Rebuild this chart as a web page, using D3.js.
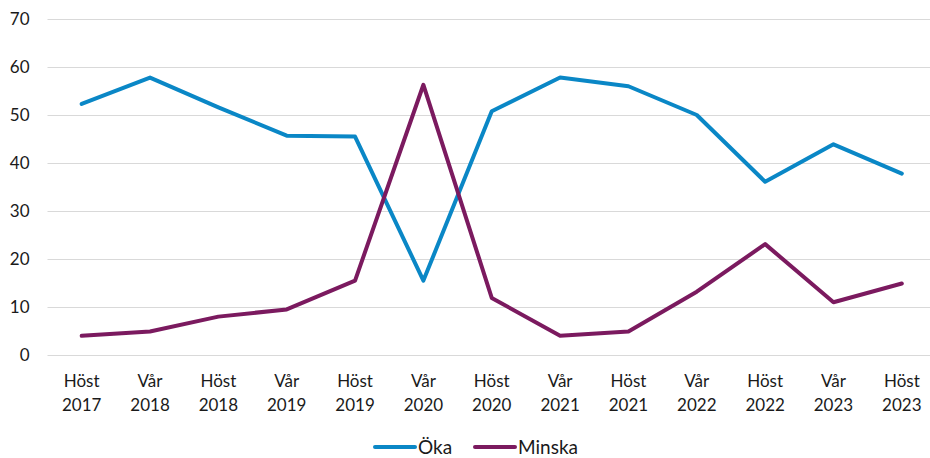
<!DOCTYPE html>
<html>
<head>
<meta charset="utf-8">
<script src="https://cdn.jsdelivr.net/npm/d3@7"></script>
<style>
  html, body { margin: 0; padding: 0; background: #fff; }
  svg { display: block; font-family: Lato, "Open Sans", sans-serif; }
</style>
</head>
<body>
<svg id="chart" width="930" height="458"></svg>
<script>
const seasons = ["Höst", "Vår", "Höst", "Vår", "Höst", "Vår", "Höst", "Vår", "Höst", "Vår", "Höst", "Vår", "Höst"]
const years = ["2017", "2018", "2018", "2019", "2019", "2020", "2020", "2021", "2021", "2022", "2022", "2023", "2023"]
const oka = [52.4, 57.9, 51.7, 45.8, 45.6, 15.6, 50.9, 57.9, 56.1, 50.1, 36.2, 44.0, 37.9]
const minska = [4.1, 5.0, 8.1, 9.6, 15.6, 56.4, 12.0, 4.1, 5.0, 13.3, 23.2, 11.1, 15.0]
const yTicks = [0, 10, 20, 30, 40, 50, 60, 70]

const series = [
  { name: "Öka", values: oka, color: "#0a87c6" },
  { name: "Minska", values: minska, color: "#7b1a5f" }
]

const width = 930
const height = 458
const margin = { top: 19.5, right: 0, bottom: 102.5, left: 47.5 }

const svg = d3.select("#chart")
const idx = d3.range(seasons.length)

// the band runs a little past the right edge, as in the original
const x = d3.scaleBand()
  .domain(idx)
  .range([margin.left, 936])

const y = d3.scaleLinear()
  .domain([0, 70])
  .range([height - margin.bottom, margin.top])

// gridlines
svg.append("g")
  .selectAll("line")
  .data(yTicks)
  .join("line")
  .attr("x1", margin.left)
  .attr("x2", width)
  .attr("y1", d => y(d))
  .attr("y2", d => y(d))
  .attr("stroke", "#d9d9d9")
  .attr("stroke-width", 1)

// y axis labels
const yAxis = svg.append("g")
  .attr("transform", `translate(${margin.left},0)`)
  .call(d3.axisLeft(y).tickValues(yTicks).tickSize(0).tickPadding(18))
yAxis.select(".domain").remove()
yAxis.selectAll("text")
  .attr("font-size", 17)
  .attr("font-family", "Lato, sans-serif")
  .attr("fill", "#1a1a1a")

// x axis labels (two lines)
const xAxis = svg.append("g")
  .attr("transform", `translate(0,${y(0)})`)
  .call(d3.axisBottom(x).tickSize(0).tickFormat(""))
xAxis.select(".domain").remove()
xAxis.selectAll(".tick").append("text")
  .attr("text-anchor", "middle")
  .attr("font-size", 17)
  .attr("font-family", "Lato, sans-serif")
  .attr("fill", "#1a1a1a")
  .each(function (i) {
    const t = d3.select(this)
    t.append("tspan").attr("x", 0).attr("y", 31).text(seasons[i])
    t.append("tspan").attr("x", 0).attr("y", 55).text(years[i])
  })

// lines
const line = d3.line()
  .x((d, i) => x(i) + x.bandwidth() / 2)
  .y(d => y(d))

svg.append("g")
  .selectAll("path")
  .data(series)
  .join("path")
  .attr("d", d => line(d.values))
  .attr("fill", "none")
  .attr("stroke", d => d.color)
  .attr("stroke-width", 4)
  .attr("stroke-linejoin", "round")
  .attr("stroke-linecap", "round")

// legend
const legend = svg.append("g").attr("font-family", "Lato, sans-serif")
const legendX = [375, 475]
series.forEach((s, i) => {
  const g = legend.append("g").attr("transform", `translate(${legendX[i]},447)`)
  g.append("line")
    .attr("x1", 0).attr("x2", 40)
    .attr("stroke", s.color)
    .attr("stroke-width", 4)
    .attr("stroke-linecap", "round")
  g.append("text")
    .attr("x", 43)
    .attr("dy", "0.35em")
    .attr("font-size", 19)
    .attr("fill", "#1a1a1a")
    .text(s.name)
})
</script>
</body>
</html>
